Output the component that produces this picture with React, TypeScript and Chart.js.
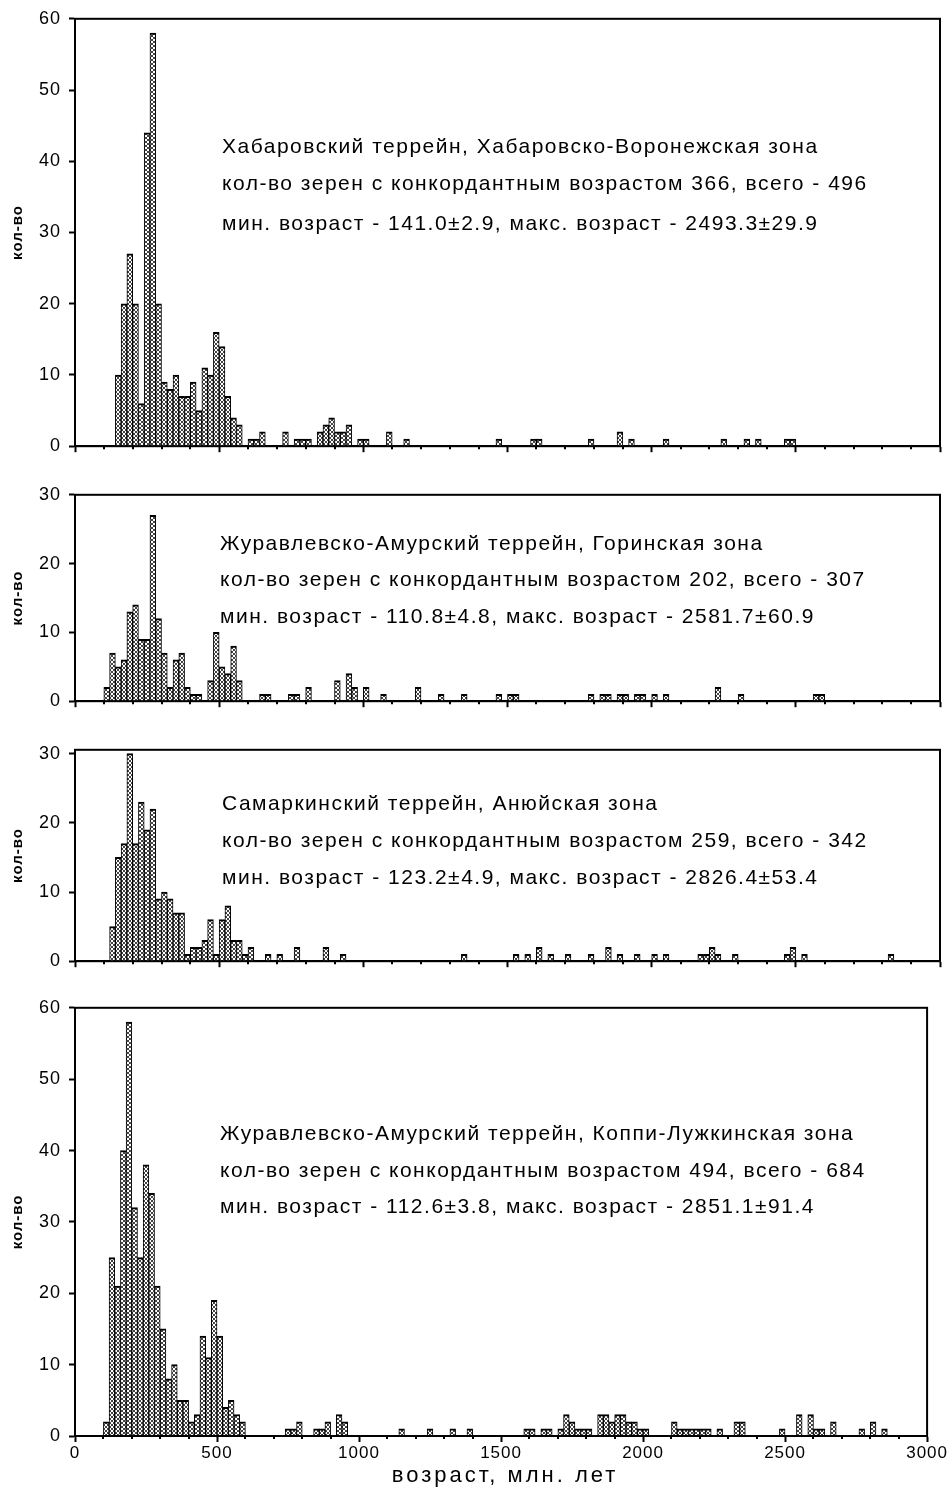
import React, { useEffect, useRef } from "react";
import { Chart, registerables } from "chart.js";
Chart.register(...registerables);

// ---------- data (bin start in Ma, bin width 20 Ma) ----------
const BIN = 20;

const p1Bins = [140, 160, 180, 200, 220, 240, 260, 280, 300, 320, 340, 360, 380, 400, 420, 440, 460, 480, 500, 520, 540, 560,
  600, 620, 640, 720, 760, 780, 800, 840, 860, 880, 900, 920, 940, 980, 1000, 1080, 1140, 1460, 1580, 1600, 1780, 1880, 1920,
  2040, 2240, 2320, 2360, 2460, 2480];
const p1Counts = [10, 20, 27, 20, 6, 44, 58, 20, 9, 8, 10, 7, 7, 9, 5, 11, 10, 16, 14, 7, 4, 3,
  1, 1, 2, 2, 1, 1, 1, 2, 3, 4, 2, 2, 3, 1, 1, 2, 1, 1, 1, 1, 1, 2, 1,
  1, 1, 1, 1, 1, 1];

const p2Bins = [100, 120, 140, 160, 180, 200, 220, 240, 260, 280, 300, 320, 340, 360, 380, 400, 420, 460, 480, 500, 520, 540, 560,
  640, 660, 740, 760, 800, 900, 940, 960, 1000, 1060, 1180, 1260, 1340, 1460, 1500, 1520,
  1780, 1820, 1840, 1880, 1900, 1940, 1960, 2000, 2040, 2220, 2300, 2560, 2580];
const p2Counts = [2, 7, 5, 6, 13, 14, 9, 9, 27, 12, 7, 2, 6, 7, 2, 1, 1, 3, 10, 5, 4, 8, 3,
  1, 1, 1, 1, 2, 3, 4, 2, 2, 1, 2, 1, 1, 1, 1, 1,
  1, 1, 1, 1, 1, 1, 1, 1, 1, 2, 1, 1, 1];

const p3Bins = [120, 140, 160, 180, 200, 220, 240, 260, 280, 300, 320, 340, 360, 380, 400, 420, 440, 460, 480, 500, 520, 540, 560,
  580, 600, 660, 700, 760, 860, 920, 1340, 1520, 1560, 1600, 1640, 1700, 1780, 1840, 1880, 1940, 2000, 2040, 2160, 2180, 2200,
  2220, 2280, 2460, 2480, 2520, 2820];
const p3Counts = [5, 15, 17, 30, 17, 23, 19, 22, 9, 10, 9, 7, 7, 1, 2, 2, 3, 6, 1, 6, 8, 3, 3,
  1, 2, 1, 1, 2, 2, 1, 1, 1, 1, 2, 1, 1, 1, 2, 1, 1, 1, 1, 1, 1, 2,
  1, 1, 1, 2, 1, 1];

const p4Bins = [100, 120, 140, 160, 180, 200, 220, 240, 260, 280, 300, 320, 340, 360, 380, 400, 420, 440, 460, 480, 500, 520, 540,
  560, 580, 740, 760, 780, 840, 860, 880, 920, 940, 1140, 1240, 1320, 1380, 1580, 1600, 1640, 1660, 1700, 1720, 1740, 1760,
  1780, 1800, 1840, 1860, 1880, 1900, 1920, 1940, 1960, 1980, 2000, 2100, 2120, 2140, 2160, 2180, 2200, 2220, 2260, 2320,
  2340, 2480, 2540, 2580, 2600, 2620, 2660, 2760, 2800, 2840];
const p4Counts = [2, 25, 21, 40, 58, 32, 25, 38, 34, 21, 15, 8, 10, 5, 5, 2, 3, 14, 11, 19, 14, 4, 5,
  3, 2, 1, 1, 2, 1, 1, 2, 3, 2, 1, 1, 1, 1, 1, 1, 1, 1, 1, 3, 2, 1,
  1, 1, 3, 3, 2, 3, 3, 2, 2, 1, 1, 2, 1, 1, 1, 1, 1, 1, 1, 2,
  2, 1, 3, 3, 1, 1, 2, 1, 2, 1];

const xMajorTicks = [0, 500, 1000, 1500, 2000, 2500, 3000];
const xMinorStep = 100;
const yTicks60 = [0, 10, 20, 30, 40, 50, 60];
const yTicks30 = [0, 10, 20, 30];

const p1Text = [
  "Хабаровский террейн, Хабаровско-Воронежская зона",
  "кол-во зерен с конкордантным возрастом 366, всего - 496",
  "мин. возраст - 141.0±2.9, макс. возраст - 2493.3±29.9",
];
const p2Text = [
  "Журавлевско-Амурский террейн, Горинская зона",
  "кол-во зерен с конкордантным возрастом 202, всего - 307",
  "мин. возраст - 110.8±4.8, макс. возраст - 2581.7±60.9",
];
const p3Text = [
  "Самаркинский террейн, Анюйская зона",
  "кол-во зерен с конкордантным возрастом 259, всего - 342",
  "мин. возраст - 123.2±4.9, макс. возраст - 2826.4±53.4",
];
const p4Text = [
  "Журавлевско-Амурский террейн, Коппи-Лужкинская зона",
  "кол-во зерен с конкордантным возрастом 494, всего - 684",
  "мин. возраст - 112.6±3.8, макс. возраст - 2851.1±91.4",
];

const yTitle = "кол-во";
const xTitle = "возраст, млн. лет";

// ---------- layout ----------
const W = 947;
const FONT = '"Liberation Sans", Arial, sans-serif';

type PanelCfg = {
  bins: number[]; counts: number[]; yMax: number; yTicks: number[]; text: string[];
  canvasTop: number; height: number; padTop: number; xAxisH: number; showX: boolean;
  textX: number; textY: number[];
};

const panels: PanelCfg[] = [
  { bins: p1Bins, counts: p1Counts, yMax: 60, yTicks: yTicks60, text: p1Text,
    canvasTop: 0, height: 465, padTop: 18, xAxisH: 14, showX: false, textX: 222, textY: [147, 184, 224] },
  { bins: p2Bins, counts: p2Counts, yMax: 30, yTicks: yTicks30, text: p2Text,
    canvasTop: 476, height: 244, padTop: 14, xAxisH: 14, showX: false, textX: 220, textY: [544, 580, 617] },
  { bins: p3Bins, counts: p3Counts, yMax: 30.55, yTicks: yTicks30, text: p3Text,
    canvasTop: 731, height: 249, padTop: 14, xAxisH: 14, showX: false, textX: 222, textY: [804, 841, 878] },
  { bins: p4Bins, counts: p4Counts, yMax: 60, yTicks: yTicks60, text: p4Text,
    canvasTop: 989, height: 501, padTop: 14, xAxisH: 54, showX: true, textX: 220, textY: [1134, 1171, 1207] },
];

function makePattern(): CanvasPattern | string {
  const c = document.createElement("canvas");
  c.width = 4; c.height = 4;
  const g = c.getContext("2d");
  if (!g) return "#bbb";
  g.fillStyle = "#fff";
  g.fillRect(0, 0, 4, 4);
  g.strokeStyle = "#444";
  g.lineWidth = 1;
  g.beginPath();
  g.moveTo(0, 0); g.lineTo(4, 4);
  g.moveTo(4, 0); g.lineTo(0, 4);
  g.stroke();
  return g.createPattern(c, "repeat") || "#bbb";
}

function Panel({ cfg }: { cfg: PanelCfg }) {
  const ref = useRef<HTMLCanvasElement | null>(null);
  useEffect(() => {
    const canvas = ref.current;
    if (!canvas) return;
    const pattern = makePattern();

    const framePlugin = {
      id: "frame",
      beforeDraw(chart: any) {
        (chart.ctx as any).letterSpacing = "1px";
      },
      afterDraw(chart: any) {
        const { ctx, chartArea: a, scales } = chart;
        ctx.save();
        ctx.strokeStyle = "#000";
        ctx.lineWidth = 2;
        ctx.strokeRect(a.left, a.top, a.right - a.left, a.bottom - a.top);
        // minor x ticks
        const xs = scales.x;
        ctx.beginPath();
        for (let v = 0; v <= 3000; v += xMinorStep) {
          if (v % 500 === 0) continue;
          const px = Math.round(xs.getPixelForValue(v));
          ctx.moveTo(px, a.bottom);
          ctx.lineTo(px, a.bottom + 3);
        }
        ctx.stroke();
        // annotation text
        ctx.fillStyle = "#000";
        ctx.font = `21px ${FONT}`;
        (ctx as any).letterSpacing = "1.5px";
        ctx.textBaseline = "middle";
        ctx.textAlign = "left";
        cfg.text.forEach((t, i) => {
          ctx.fillText(t, cfg.textX, cfg.textY[i] - cfg.canvasTop);
        });
        // x-axis title (bottom panel only)
        if (cfg.showX) {
          ctx.font = `22px ${FONT}`;
          (ctx as any).letterSpacing = "3px";
          ctx.textAlign = "center";
          ctx.fillText(xTitle, (a.left + a.right) / 2 + 4, 1476 - cfg.canvasTop);
        }
        ctx.restore();
      },
    };

    const chart = new Chart(canvas, {
      type: "bar",
      data: {
        datasets: [
          {
            data: cfg.bins.map((b, i) => ({ x: b + BIN / 2, y: cfg.counts[i] })),
            backgroundColor: pattern as any,
            borderColor: "#000",
            borderWidth: { top: 2, left: 1, right: 1, bottom: 0 },
            borderSkipped: "start",
            barPercentage: 1,
            categoryPercentage: 1,
          } as any,
        ],
      },
      options: {
        animation: false,
        responsive: false,
        devicePixelRatio: 1,
        events: [],
        layout: { padding: { top: cfg.padTop, right: 7, left: 0, bottom: 0 } },
        plugins: { legend: { display: false }, tooltip: { enabled: false } },
        scales: {
          x: {
            type: "linear",
            min: 0,
            max: 3000,
            offset: false,
            afterBuildTicks: (s: any) => { s.ticks = xMajorTicks.map((v) => ({ value: v })); },
            afterFit: (s: any) => { s.height = cfg.xAxisH; },
            grid: { offset: false, drawOnChartArea: false, drawTicks: true, tickLength: 6, tickWidth: 2, tickColor: "#000" },
            border: { display: true, color: "#000", width: 2 },
            ticks: {
              display: cfg.showX, color: "#000", font: { family: FONT, size: 17 }, padding: 1,
              maxRotation: 0, autoSkip: false, callback: (v: any) => String(v),
            },
            title: { display: false },
          },
          y: {
            type: "linear",
            min: 0,
            max: cfg.yMax,
            afterBuildTicks: (s: any) => { s.ticks = cfg.yTicks.map((v) => ({ value: v })); },
            afterFit: (s: any) => { s.width = 75; },
            grid: { drawOnChartArea: false, drawTicks: true, tickLength: 6, tickWidth: 2, tickColor: "#000" },
            border: { display: true, color: "#000", width: 2 },
            ticks: { color: "#000", font: { family: FONT, size: 18 }, padding: 8, callback: (v: any) => String(v) },
            title: {
              display: true, text: yTitle, color: "#000",
              font: { family: FONT, size: 15, weight: "bold" }, padding: { top: 9, bottom: 0 },
            },
          },
        },
      } as any,
      plugins: [framePlugin],
    });
    return () => chart.destroy();
  }, [cfg]);
  return (
    <canvas
      ref={ref}
      width={W}
      height={cfg.height}
      style={{ position: "absolute", left: 0, top: cfg.canvasTop, width: W, height: cfg.height }}
    />
  );
}

export default function App() {
  return (
    <div style={{ position: "absolute", left: 0, top: 0, width: W, height: 1490, background: "#fff" }}>
      {panels.map((p, i) => (
        <Panel key={i} cfg={p} />
      ))}
    </div>
  );
}
